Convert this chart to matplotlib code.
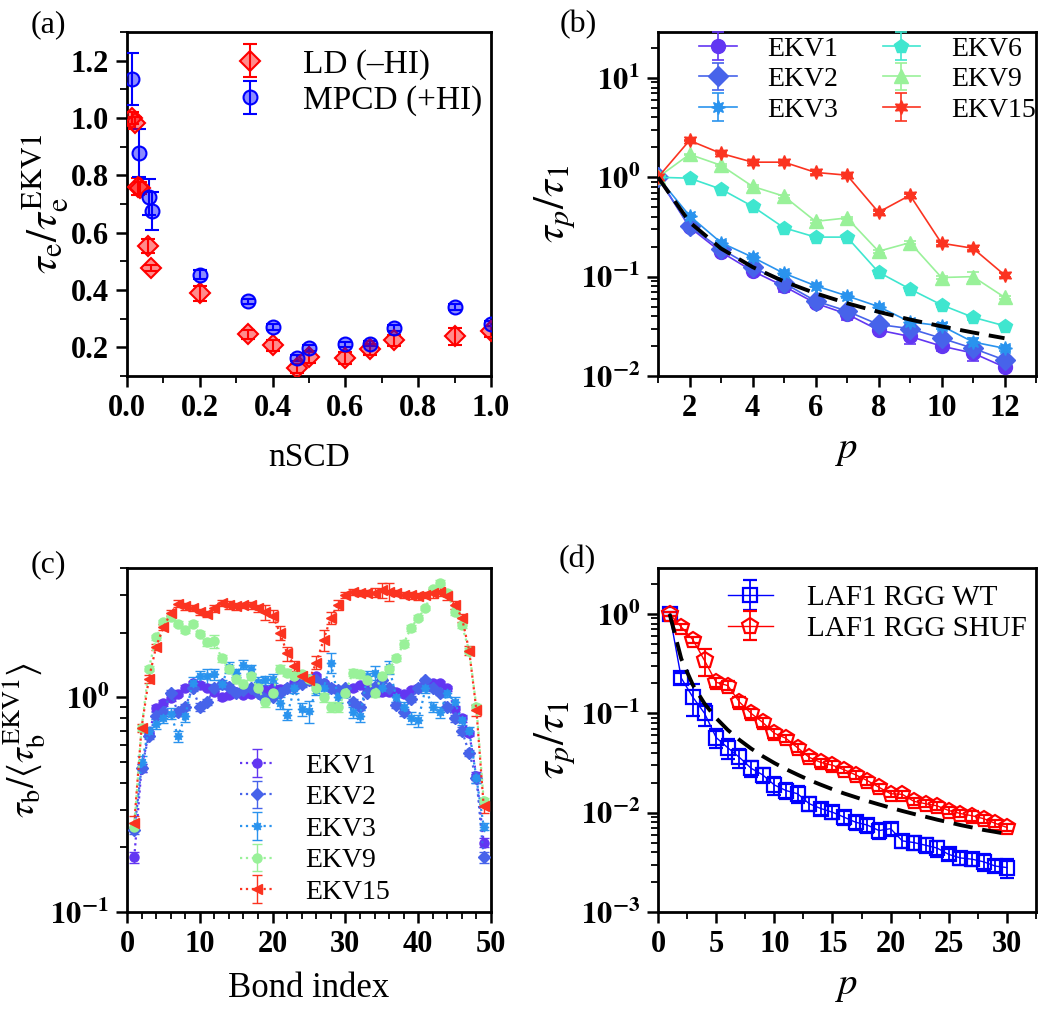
import numpy as np
import matplotlib
matplotlib.use("Agg")
import matplotlib.pyplot as plt
from matplotlib.ticker import MultipleLocator, FuncFormatter, LogLocator, NullFormatter

plt.rcParams['font.family'] = ['Liberation Serif', 'DejaVu Serif']
plt.rcParams['mathtext.fontset'] = 'stix'
plt.rcParams['axes.linewidth'] = 2.0

# ---------------- data: panel (a) ----------------
ld_x = [0.014, 0.022, 0.029, 0.036, 0.058, 0.065, 0.2, 0.333, 0.4, 0.467, 0.5, 0.6, 0.667, 0.733, 0.9, 1.0]
ld_y = [1.0, 0.983, 0.76, 0.755, 0.554, 0.477, 0.388, 0.245, 0.207, 0.127, 0.165, 0.163, 0.193, 0.224, 0.238, 0.256]
ld_err = [0.02, 0.02, 0.03, 0.02, 0.025, 0.01, 0.025, 0.015, 0.02, 0.015, 0.02, 0.02, 0.02, 0.02, 0.03, 0.02]
mpcd_x = [0.015, 0.034, 0.06, 0.068, 0.2, 0.333, 0.4, 0.467, 0.5, 0.6, 0.667, 0.733, 0.9, 1.0]
mpcd_y = [1.136, 0.878, 0.725, 0.676, 0.454, 0.36, 0.27, 0.162, 0.197, 0.21, 0.213, 0.267, 0.34, 0.283]
mpcd_err = [0.09, 0.085, 0.062, 0.065, 0.015, 0.01, 0.01, 0.01, 0.01, 0.01, 0.01, 0.01, 0.01, 0.01]

# ---------------- data: panel (b) ----------------
p_b = [1, 2, 3, 4, 5, 6, 7, 8, 9, 10, 11, 12]
ekv1_b = [1, 0.315, 0.177, 0.114, 0.08, 0.054, 0.042, 0.029, 0.025, 0.02, 0.017, 0.0123]
ekv1_b_err = [0, 0.01, 0.01, 0.008, 0.01, 0.004, 0.005, 0.002, 0.004, 0.002, 0.003, 0.001]
ekv2_b = [1, 0.32, 0.19, 0.125, 0.086, 0.057, 0.045, 0.033, 0.03, 0.024, 0.019, 0.0145]
ekv2_b_err = [0, 0.01, 0.008, 0.006, 0.005, 0.003, 0.003, 0.002, 0.002, 0.002, 0.002, 0.001]
ekv3_b = [1, 0.41, 0.22, 0.157, 0.108, 0.081, 0.064, 0.05, 0.035, 0.032, 0.022, 0.019]
ekv3_b_err = [0, 0.01, 0.008, 0.006, 0.005, 0.003, 0.003, 0.002, 0.002, 0.002, 0.002, 0.001]
ekv6_b = [1, 0.98, 0.76, 0.51, 0.31, 0.25, 0.25, 0.111, 0.075, 0.052, 0.039, 0.032]
ekv6_b_err = [0, 0.02, 0.02, 0.01, 0.01, 0.01, 0.01, 0.004, 0.003, 0.002, 0.002, 0.001]
ekv9_b = [1, 1.7, 1.32, 0.81, 0.645, 0.36, 0.39, 0.18, 0.22, 0.098, 0.1, 0.062]
ekv9_b_err = [0, 0.03, 0.03, 0.02, 0.02, 0.01, 0.01, 0.006, 0.006, 0.004, 0.012, 0.002]
ekv15_b = [1, 2.35, 1.74, 1.42, 1.42, 1.12, 1.05, 0.445, 0.66, 0.217, 0.193, 0.104]
ekv15_b_err = [0, 0.05, 0.04, 0.03, 0.03, 0.03, 0.03, 0.015, 0.02, 0.008, 0.008, 0.005]
guide_b = [1.0, 0.354, 0.192, 0.125, 0.0894, 0.068, 0.054, 0.0442, 0.037, 0.0316, 0.0274, 0.024]

# ---------------- data: panel (c) ----------------
bond = list(range(1, 50))
ekv1_c = [0.18, 0.47, 0.68, 0.89, 0.94, 0.99, 1.04, 1.11, 1.16, 1.14, 1.11, 1.06, 1.0, 1.02, 1.06, 1.03, 1.04,
          1.08, 1.08, 1.1, 1.09, 1.11, 1.16, 1.18, 1.2, 1.25, 1.16, 1.11, 1.08, 1.06, 1.1, 1.14, 1.1, 1.06,
          1.06, 1.06, 1.06, 1.04, 1.08, 1.11, 1.16, 1.16, 1.16, 1.1, 0.88, 0.8, 0.68, 0.43, 0.21]
ekv2_c = [0.24, 0.47, 0.66, 0.82, 0.85, 1.05, 0.85, 0.9, 1.1, 0.9, 0.95, 1.1, 1.15, 1.12, 1.05, 1.08, 1.1,
          1.05, 0.98, 1.0, 1.05, 1.1, 1.12, 1.15, 1.2, 1.2, 1.15, 1.1, 1.08, 1.1, 0.95, 0.9, 1.05, 1.12,
          1.2, 1.1, 0.92, 0.85, 0.98, 1.1, 1.2, 1.1, 1.05, 0.9, 0.8, 0.7, 0.55, 0.42, 0.18]
ekv3_c = [0.25, 0.5, 0.7, 0.75, 0.8, 0.84, 0.66, 0.82, 1.16, 1.25, 1.25, 1.28, 1.15, 1.38, 1.3, 1.42, 1.35,
          1.18, 1.2, 1.22, 0.94, 0.83, 1.1, 0.88, 0.86, 1.08, 1.1, 1.45, 1.0, 1.05, 0.85, 0.82, 1.25, 1.3,
          1.1, 1.38, 1.0, 0.9, 0.8, 0.78, 1.1, 0.9, 0.85, 1.05, 0.95, 0.78, 0.7, 0.42, 0.25]
ekv9_c = [0.25, 0.72, 1.36, 1.9, 2.23, 2.36, 2.2, 2.05, 2.2, 1.98, 1.8, 1.82, 1.52, 1.36, 1.22, 1.15, 1.25,
          1.1, 0.95, 1.05, 1.36, 1.3, 1.26, 1.28, 1.22, 1.1, 1.0, 0.9, 0.9, 1.05, 1.3, 1.28, 1.2, 1.05,
          1.25, 1.35, 1.52, 1.78, 2.1, 2.35, 2.6, 3.2, 3.42, 3.05, 2.5, 2.16, 1.65, 0.9, 0.33]
ekv15_c = [0.26, 0.72, 1.22, 1.72, 2.12, 2.46, 2.73, 2.65, 2.6, 2.5, 2.45, 2.6, 2.75, 2.7, 2.65, 2.68, 2.68,
           2.6, 2.5, 2.4, 2.0, 1.6, 1.4, 1.25, 1.2, 1.45, 1.85, 2.35, 2.7, 3.0, 3.1, 3.05, 3.07, 3.07,
           3.15, 3.1, 3.05, 3.0, 2.98, 2.95, 3.0, 3.05, 3.1, 2.95, 2.7, 2.35, 1.65, 0.87, 0.31]
err_c_small = [0.01, 0.02, 0.02, 0.03, 0.03, 0.03, 0.03, 0.03, 0.03, 0.04, 0.03, 0.03, 0.03, 0.03, 0.03, 0.03, 0.03,
               0.03, 0.03, 0.03, 0.03, 0.03, 0.03, 0.03, 0.03, 0.03, 0.03, 0.03, 0.03, 0.03, 0.03, 0.03, 0.03, 0.03,
               0.03, 0.03, 0.03, 0.03, 0.03, 0.03, 0.03, 0.03, 0.03, 0.03, 0.03, 0.03, 0.02, 0.02, 0.01]
ekv3_c_err = [0.01, 0.03, 0.03, 0.04, 0.04, 0.05, 0.04, 0.05, 0.08, 0.08, 0.1, 0.08, 0.06, 0.08, 0.06, 0.07, 0.06,
              0.06, 0.06, 0.06, 0.06, 0.05, 0.05, 0.06, 0.1, 0.05, 0.06, 0.15, 0.06, 0.05, 0.05, 0.05, 0.08, 0.1,
              0.06, 0.1, 0.05, 0.05, 0.05, 0.05, 0.05, 0.05, 0.05, 0.05, 0.05, 0.04, 0.03, 0.02, 0.01]
ekv9_c_err = [0.01, 0.02, 0.04, 0.05, 0.05, 0.06, 0.06, 0.06, 0.06, 0.06, 0.06, 0.12, 0.06, 0.05, 0.05, 0.05, 0.05,
              0.05, 0.05, 0.05, 0.05, 0.05, 0.05, 0.05, 0.05, 0.05, 0.05, 0.05, 0.05, 0.05, 0.05, 0.05, 0.05, 0.05,
              0.05, 0.05, 0.05, 0.06, 0.06, 0.06, 0.06, 0.08, 0.1, 0.1, 0.08, 0.06, 0.05, 0.03, 0.01]
ekv15_c_err = [0.02, 0.03, 0.05, 0.06, 0.07, 0.08, 0.1, 0.1, 0.08, 0.08, 0.08, 0.1, 0.1, 0.12, 0.1, 0.08, 0.1,
               0.1, 0.2, 0.15, 0.15, 0.12, 0.08, 0.06, 0.06, 0.1, 0.2, 0.15, 0.15, 0.1, 0.1, 0.1, 0.1, 0.15,
               0.25, 0.3, 0.1, 0.1, 0.1, 0.1, 0.1, 0.15, 0.15, 0.12, 0.12, 0.1, 0.08, 0.05, 0.02]

# ---------------- data: panel (d) ----------------
p_d = list(range(1, 31))
wt_d = [1.0, 0.226, 0.145, 0.1, 0.057, 0.045, 0.036, 0.028, 0.024, 0.019, 0.0167, 0.0155, 0.0123, 0.011, 0.0101,
        0.009, 0.008, 0.0075, 0.0066, 0.0069, 0.0052, 0.005, 0.0047, 0.0044, 0.0038, 0.0035, 0.0034, 0.0032,
        0.0029, 0.0028]
wt_d_err = [0.05, 0.03, 0.05, 0.025, 0.012, 0.01, 0.008, 0.005, 0.004, 0.004, 0.003, 0.003, 0.002, 0.0015, 0.0015,
            0.0015, 0.0013, 0.0012, 0.0012, 0.001, 0.0008, 0.0008, 0.0008, 0.0008, 0.0005, 0.0005, 0.0005, 0.0006,
            0.0004, 0.0006]
shuf_d = [1.0, 0.74, 0.55, 0.34, 0.205, 0.19, 0.13, 0.1, 0.081, 0.063, 0.056, 0.045, 0.036, 0.032, 0.03, 0.027,
          0.024, 0.021, 0.018, 0.0155, 0.0153, 0.013, 0.0123, 0.0117, 0.0105, 0.0098, 0.0093, 0.0087, 0.0078, 0.0071]
shuf_d_err = [0.05, 0.05, 0.04, 0.1, 0.02, 0.02, 0.015, 0.01, 0.008, 0.006, 0.004, 0.004, 0.003, 0.003, 0.003,
              0.002, 0.002, 0.002, 0.0015, 0.0012, 0.0012, 0.001, 0.001, 0.001, 0.0008, 0.0008, 0.001, 0.0008,
              0.0006, 0.0005]
guide_d = [1.0, 0.3536, 0.1925, 0.125, 0.0894, 0.068, 0.054, 0.0442, 0.037, 0.0316, 0.0274, 0.0241, 0.0213,
           0.0191, 0.0172, 0.0156, 0.0143, 0.0131, 0.0121, 0.0112, 0.0104, 0.0097, 0.0091, 0.0085, 0.008, 0.0075,
           0.0071, 0.0067, 0.0064, 0.0061]

# ---------------- colours ----------------
c_ekv1 = '#6236f2'
c_ekv2 = '#4763ea'
c_ekv3 = '#2a93ee'
c_ekv6 = '#3fe6cf'
c_ekv9 = '#99f199'
c_ekv15 = '#fb3320'

W, H = 1050, 1029
fig = plt.figure(figsize=(W / 100, H / 100), dpi=100)

def ax_at(x0, y0, x1, y1):
    return fig.add_axes([x0 / W, 1 - y1 / H, (x1 - x0) / W, (y1 - y0) / H])

axA = ax_at(127, 32, 491, 376)
axB = ax_at(658, 32, 1036, 376)
axC = ax_at(127, 568, 491, 912)
axD = ax_at(658, 568, 1036, 912)

TICKFS = 22
def style(ax):
    ax.tick_params(which='major', direction='out', length=8, width=1.8, labelsize=TICKFS, pad=5)
    ax.tick_params(which='minor', direction='out', length=5, width=1.3)
    for lab in ax.get_xticklabels() + ax.get_yticklabels():
        lab.set_fontweight('bold')

logfmt = FuncFormatter(lambda v, pos: r'$\mathbf{10^{%d}}$' % int(round(np.log10(v))))

# ---------------- (a) ----------------
axA.errorbar(ld_x, ld_y, yerr=ld_err, fmt='D', ms=10, mfc=(1, 0, 0, 0.45), mec='red', mew=1.5,
             ecolor='red', elinewidth=1.5, capsize=5, capthick=1.5, label='LD (\u2013HI)', zorder=3)
axA.errorbar(mpcd_x, mpcd_y, yerr=mpcd_err, fmt='o', ms=10, mfc=(0, 0, 1, 0.45), mec='blue', mew=1.5,
             ecolor='blue', elinewidth=1.5, capsize=5, capthick=1.5, label='MPCD (+HI)', zorder=3)
axA.set_xlim(0, 1.0)
axA.set_ylim(0.1, 1.3)
axA.xaxis.set_major_locator(MultipleLocator(0.2))
axA.xaxis.set_minor_locator(MultipleLocator(0.1))
axA.yaxis.set_major_locator(MultipleLocator(0.2))
axA.yaxis.set_minor_locator(MultipleLocator(0.1))
axA.xaxis.set_major_formatter(FuncFormatter(lambda v, p: '%.1f' % v))
axA.yaxis.set_major_formatter(FuncFormatter(lambda v, p: '%.1f' % v))
axA.set_xlabel('nSCD', fontsize=24, labelpad=14)
axA.set_ylabel(r'$\tau_{\mathrm{e}}/\tau_{\mathrm{e}}^{\mathrm{EKV1}}$', fontsize=31, labelpad=0)
axA.legend(loc='upper left', bbox_to_anchor=(0.245, 0.99), frameon=False, fontsize=24,
           handlelength=1.2, handletextpad=1.0, labelspacing=0.18, borderaxespad=0)
style(axA)

# ---------------- (b) ----------------
star8 = (8, 1, 0)
star6 = (6, 1, 0)
series_b = [
    (ekv1_b, ekv1_b_err, c_ekv1, 'o', 'EKV1'),
    (ekv2_b, ekv2_b_err, c_ekv2, 'D', 'EKV2'),
    (ekv3_b, ekv3_b_err, c_ekv3, star8, 'EKV3'),
    (ekv6_b, ekv6_b_err, c_ekv6, 'p', 'EKV6'),
    (ekv9_b, ekv9_b_err, c_ekv9, '^', 'EKV9'),
    (ekv15_b, ekv15_b_err, c_ekv15, star6, 'EKV15'),
]
for vals, errs, col, mk, lab in series_b:
    axB.errorbar(p_b, vals, yerr=errs, fmt='-', marker=mk, color=col, ms=10, lw=1.2,
                 elinewidth=1.2, capsize=4, capthick=1.2, label=lab, zorder=3)
axB.plot(p_b, guide_b, color='black', ls=(0, (5, 2.5)), lw=2.8, zorder=4)
axB.set_yscale('log')
axB.set_xlim(1, 13)
axB.set_ylim(0.01, 29)
axB.xaxis.set_major_locator(MultipleLocator(2))
axB.xaxis.set_minor_locator(MultipleLocator(1))
axB.yaxis.set_major_locator(LogLocator(base=10, numticks=10))
axB.yaxis.set_minor_locator(LogLocator(base=10, subs=np.arange(2, 10), numticks=10))
axB.yaxis.set_major_formatter(logfmt)
axB.yaxis.set_minor_formatter(NullFormatter())
axB.set_xlabel(r'$p$', fontsize=28, labelpad=6)
axB.set_ylabel(r'$\tau_p/\tau_1$', fontsize=31, labelpad=2)
axB.legend(loc='upper left', bbox_to_anchor=(0.08, 1.02), ncol=2, frameon=False, fontsize=20,
           handlelength=1.35, handletextpad=1.1, labelspacing=0.18, columnspacing=1.6, borderaxespad=0)
style(axB)

# ---------------- (c) ----------------
series_c = [
    (ekv1_c, err_c_small, c_ekv1, 'o', 'EKV1'),
    (ekv2_c, err_c_small, c_ekv2, 'D', 'EKV2'),
    (ekv3_c, ekv3_c_err, c_ekv3, star8, 'EKV3'),
    (ekv9_c, ekv9_c_err, c_ekv9, 'o', 'EKV9'),
    (ekv15_c, ekv15_c_err, c_ekv15, '<', 'EKV15'),
]
for vals, errs, col, mk, lab in series_c:
    axC.errorbar(bond, vals, yerr=errs, fmt=':', marker=mk, color=col, ms=6.5, lw=1.6,
                 elinewidth=1.0, capsize=3.5, capthick=1.0, label=lab, zorder=3)
axC.set_yscale('log')
axC.set_xlim(0, 50)
axC.set_ylim(0.1, 4)
axC.xaxis.set_major_locator(MultipleLocator(10))
axC.xaxis.set_minor_locator(MultipleLocator(2))
axC.yaxis.set_major_locator(LogLocator(base=10, numticks=10))
axC.yaxis.set_minor_locator(LogLocator(base=10, subs=np.arange(2, 10), numticks=10))
axC.yaxis.set_major_formatter(logfmt)
axC.yaxis.set_minor_formatter(NullFormatter())
axC.set_xlabel('Bond index', fontsize=25, labelpad=9)
axC.set_ylabel(r'$\tau_{\mathrm{b}}/\langle\tau_{\mathrm{b}}^{\mathrm{EKV1}}\rangle$', fontsize=27, labelpad=2)
axC.legend(loc='upper left', bbox_to_anchor=(0.28, 0.494), frameon=False, fontsize=20,
           handlelength=1.2, handletextpad=1.15, labelspacing=0.22, borderaxespad=0)
style(axC)

# ---------------- (d) ----------------
axD.errorbar(p_d, wt_d, yerr=wt_d_err, fmt='-', marker='s', color='blue', mfc='none', ms=10, mew=1.6, lw=1.0,
             elinewidth=1.3, capsize=5, capthick=1.3, label='LAF1 RGG WT', zorder=3)
axD.errorbar(p_d, shuf_d, yerr=shuf_d_err, fmt='-', marker='p', color='red', mfc='none', ms=12, mew=1.6, lw=1.0,
             elinewidth=1.3, capsize=5, capthick=1.3, label='LAF1 RGG SHUF', zorder=3)
axD.plot(p_d, guide_d, color='black', ls=(0, (5, 2.5)), lw=2.8, zorder=4)
axD.set_yscale('log')
axD.set_xlim(0, 32.5)
axD.set_ylim(1e-3, 2.9)
axD.xaxis.set_major_locator(MultipleLocator(5))
axD.xaxis.set_minor_locator(MultipleLocator(2.5))
axD.yaxis.set_major_locator(LogLocator(base=10, numticks=10))
axD.yaxis.set_minor_locator(LogLocator(base=10, subs=np.arange(2, 10), numticks=10))
axD.yaxis.set_major_formatter(logfmt)
axD.yaxis.set_minor_formatter(NullFormatter())
axD.set_xlabel(r'$p$', fontsize=28, labelpad=6)
axD.set_ylabel(r'$\tau_p/\tau_1$', fontsize=31, labelpad=2)
axD.legend(loc='upper left', bbox_to_anchor=(0.154, 0.985), frameon=False, fontsize=21,
           handlelength=1.55, handletextpad=1.15, labelspacing=0.15, borderaxespad=0)
style(axD)

# panel labels
for txt, x, y in [('(a)', 48, 25), ('(b)', 578, 25), ('(c)', 48, 565), ('(d)', 577, 560)]:
    fig.text(x / W, 1 - y / H, txt, fontsize=23, ha='center', va='center')

fig.savefig('out.png', dpi=100)
